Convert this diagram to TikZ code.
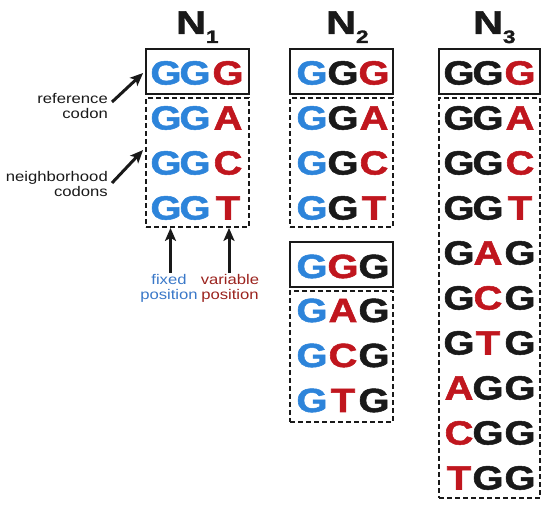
\documentclass[tikz,border=0pt]{standalone}
\usepackage{fontspec}
\setmainfont{Liberation Sans}
\newfontfamily\heavy{Liberation Sans}[BoldFeatures={FakeBold=1.5}]
\usetikzlibrary{arrows.meta}
\definecolor{cb}{RGB}{45,132,218}
\definecolor{cr}{RGB}{192,22,30}
\definecolor{ck}{RGB}{25,25,25}
\definecolor{tb}{RGB}{58,120,200}
\definecolor{tr}{RGB}{155,35,30}
\newcommand\sx[1]{\scalebox{1.19}[1]{#1}}
\newcommand\hx[1]{\scalebox{1.25}[1]{N\raisebox{-9pt}{\fontsize{18}{18}\selectfont #1}}}
\begin{document}
\begin{tikzpicture}[x=1pt,y=-1pt,
  nt/.style={anchor=base, inner sep=0pt, font=\fontsize{33.5}{36}\selectfont\heavy\bfseries},
  hd/.style={anchor=base west, inner sep=0pt, text=ck, font=\fontsize{33}{33}\selectfont\heavy\bfseries},
  lab/.style={inner sep=0pt, font=\fontsize{14}{13.5}\selectfont},
  rb/.style={draw=ck, line width=1.8pt, inner sep=0pt},
  db/.style={rb, dash pattern=on 5pt off 3pt},
  arr/.style={draw=ck, line width=3pt, -{Stealth[length=13pt,width=11pt,inset=3pt]}}]
\useasboundingbox (0,0) rectangle (550,508);
% headings
\node[hd] (h1) at (176,34) {\hx{1}};
\node[hd] (h2) at (326,34) {\hx{2}};
\node[hd] (h3) at (473,34) {\hx{3}};
% boxes
\node[rb, minimum width=103pt, minimum height=45pt] (b1) at (197.5,71.5) {};
\node[db, minimum width=103pt, minimum height=129pt] (n1) at (197.5,162.5) {};
\node[rb, minimum width=103pt, minimum height=45pt] (b2) at (341.5,71.5) {};
\node[db, minimum width=103pt, minimum height=129pt] (n2) at (341.5,162.5) {};
\node[rb, minimum width=103pt, minimum height=45pt] (b2b) at (341.5,264.5) {};
\node[db, minimum width=103pt, minimum height=131pt] (n2b) at (341.5,356.5) {};
\node[rb, minimum width=101pt, minimum height=45pt] (b3) at (489.5,71.5) {};
\node[db, minimum width=101pt, minimum height=400pt] (n3) at (489.5,298) {};
% letters
\foreach \nm/\xa/\xb/\xc/\py/\la/\ka/\lb/\kb/\lc/\kc in {
  r1/166/195/228/84.5/G/cb/G/cb/G/cr,
  a1/166/195/228/129.5/G/cb/G/cb/A/cr,
  c1/166/195/228/174.5/G/cb/G/cb/C/cr,
  t1/166/195/228/219.5/G/cb/G/cb/T/cr,
  r2/312/343/374/84.5/G/cb/G/ck/G/cr,
  a2/312/343/374/129.5/G/cb/G/ck/A/cr,
  c2/312/343/374/174.5/G/cb/G/ck/C/cr,
  t2/312/343/374/219.5/G/cb/G/ck/T/cr,
  s2/312/343/374/278/G/cb/G/cr/G/ck,
  u2/312/343/374/322/G/cb/A/cr/G/ck,
  v2/312/343/374/367/G/cb/C/cr/G/ck,
  w2/312/343/374/412/G/cb/T/cr/G/ck,
  r3/459/488/520/84.5/G/ck/G/ck/G/cr,
  a3/459/488/520/129.5/G/ck/G/ck/A/cr,
  c3/459/488/520/174.5/G/ck/G/ck/C/cr,
  t3/459/488/520/219.5/G/ck/G/ck/T/cr,
  d3/459/488/520/264.5/G/ck/A/cr/G/ck,
  e3/459/488/520/309.5/G/ck/C/cr/G/ck,
  f3/459/488/520/354.5/G/ck/T/cr/G/ck,
  g3/459/488/520/399.5/A/cr/G/ck/G/ck,
  i3/459/488/520/444.5/C/cr/G/ck/G/ck,
  j3/459/488/520/489.5/T/cr/G/ck/G/ck}{
  \node[nt, text=\ka] (\nm-1) at (\xa,\py) {\sx{\la}};
  \node[nt, text=\kb] (\nm-2) at (\xb,\py) {\sx{\lb}};
  \node[nt, text=\kc] (\nm-3) at (\xc,\py) {\sx{\lc}};
}
% labels
\node[lab, anchor=base east, text=ck] (lref) at (108,104) {\sx{\begin{tabular}[t]{@{}r@{}}reference\\codon\end{tabular}}};
\node[lab, anchor=base east, text=ck] (lnb) at (108,182) {\sx{\begin{tabular}[t]{@{}r@{}}neighborhood\\codons\end{tabular}}};
\node[lab, anchor=base, text=tb] (lfix) at (169,285) {\sx{\begin{tabular}[t]{@{}c@{}}fixed\\position\end{tabular}}};
\node[lab, anchor=base, text=tr] (lvar) at (230,285) {\sx{\begin{tabular}[t]{@{}c@{}}variable\\position\end{tabular}}};
% arrows
\coordinate (fx) at ([shift={(1.5,-12)}]lfix.base);
\coordinate (vx) at ([shift={(-1,-12)}]lvar.base);
\draw[arr] ([shift={(4,-2)}]lref.base east) -- ([shift={(-2,1.5)}]b1.west);
\draw[arr] ([shift={(4,1)}]lnb.base east) -- ([shift={(-2,-12.5)}]n1.west);
\draw[arr] (fx) -- (fx |- n1.south);
\draw[arr] (vx) -- (vx |- n1.south);
\end{tikzpicture}
\end{document}
